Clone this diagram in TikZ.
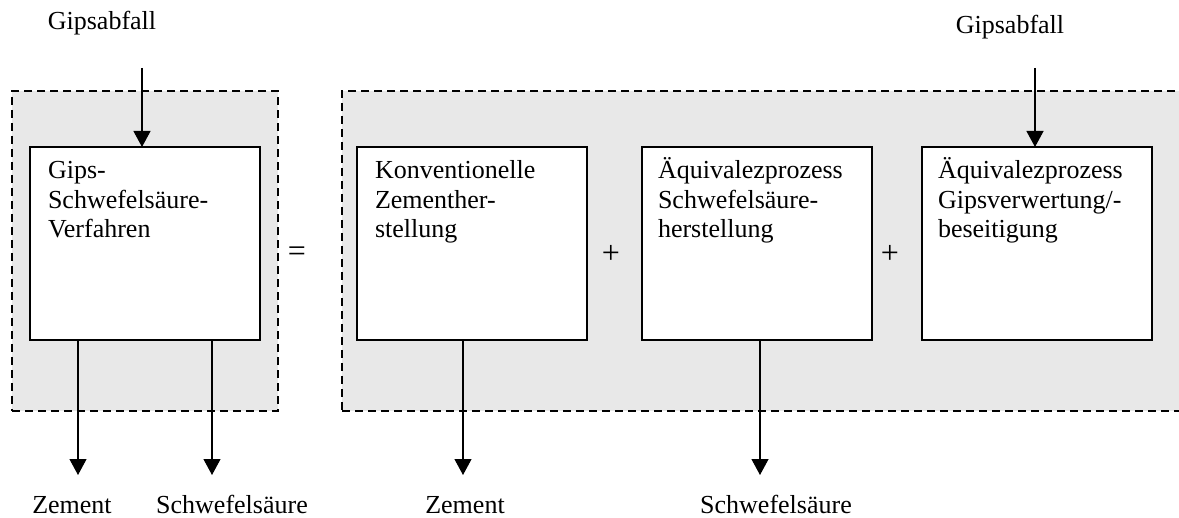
\documentclass[tikz,border=0pt]{standalone}
\usepackage{fontspec}
\setmainfont{Liberation Serif}
\usetikzlibrary{arrows.meta}
\definecolor{grpfill}{HTML}{E8E8E8}
\begin{document}
\begin{tikzpicture}[x=0.5pt,y=-0.5pt,
  every node/.style={inner sep=0pt, outer sep=0pt},
  lbl/.style={font=\fontsize{13}{14.75}\selectfont},
  oplbl/.style={font=\fontsize{16}{18}\selectfont},
  proc/.style={draw, fill=white, line width=0.75pt, minimum width=115pt, minimum height=96.5pt, anchor=north west},
  grp/.style={draw, dash pattern=on 4pt off 2.5pt, fill=grpfill, line width=0.75pt, anchor=north west, minimum height=160pt},
  flow/.style={line width=0.6pt, -{Triangle[length=8pt,width=8.5pt]}},
  ptext/.style={lbl, anchor=base west, align=left},
  clab/.style={lbl, anchor=base}
]
\useasboundingbox (0,0) rectangle (1179,518);
\clip (0,0) rectangle (1179,518);
% groups
\node[grp, minimum width=133pt] (gl) at (12,91) {};
\node[grp, minimum width=450pt] (gr) at (342,91) {};
% process boxes
\node[proc] (b1) at (30,147) {};
\node[proc] (b2) at (357,147) {};
\node[proc] (b3) at (642,147) {};
\node[proc] (b4) at (922,147) {};
% box texts (anchor = baseline of last line)
\node[ptext] (t1) at (48,238) {Gips-\\Schwefelsäure-\\Verfahren};
\node[ptext] (t2) at (375,238) {Konventionelle\\Zementher-\\stellung};
\node[ptext] (t3) at (658,238) {Äquivalezprozess\\Schwefelsäure-\\herstellung};
\node[ptext] (t4) at (938,238) {Äquivalezprozess\\Gipsverwertung/-\\beseitigung};
% operators
\node[oplbl] (eq) at (297,254) {=};
\node[oplbl] (p1) at (611,254) {+};
\node[oplbl] (p2) at (890,254) {+};
% inputs
\node[clab] (g1) at (102,30) {Gipsabfall};
\node[clab] (g2) at (1010,34) {Gipsabfall};
\coordinate (a1) at (142,68);
\coordinate (a2) at (1035,68);
\draw[flow] (a1) -- (a1 |- b1.north);
\draw[flow] (a2) -- (a2 |- b4.north);
% outputs
\coordinate (e1) at (78,475);
\coordinate (e2) at (212,475);
\coordinate (e3) at (463,475);
\coordinate (e4) at (760,475);
\draw[flow] (e1 |- b1.south) -- (e1);
\draw[flow] (e2 |- b1.south) -- (e2);
\draw[flow] (e3 |- b2.south) -- (e3);
\draw[flow] (e4 |- b3.south) -- (e4);
\node[clab] (z1) at (72,513) {Zement};
\node[clab] (s1) at (232,513) {Schwefelsäure};
\node[clab] (z2) at (465,513) {Zement};
\node[clab] (s2) at (776,513) {Schwefelsäure};
\end{tikzpicture}
\end{document}
